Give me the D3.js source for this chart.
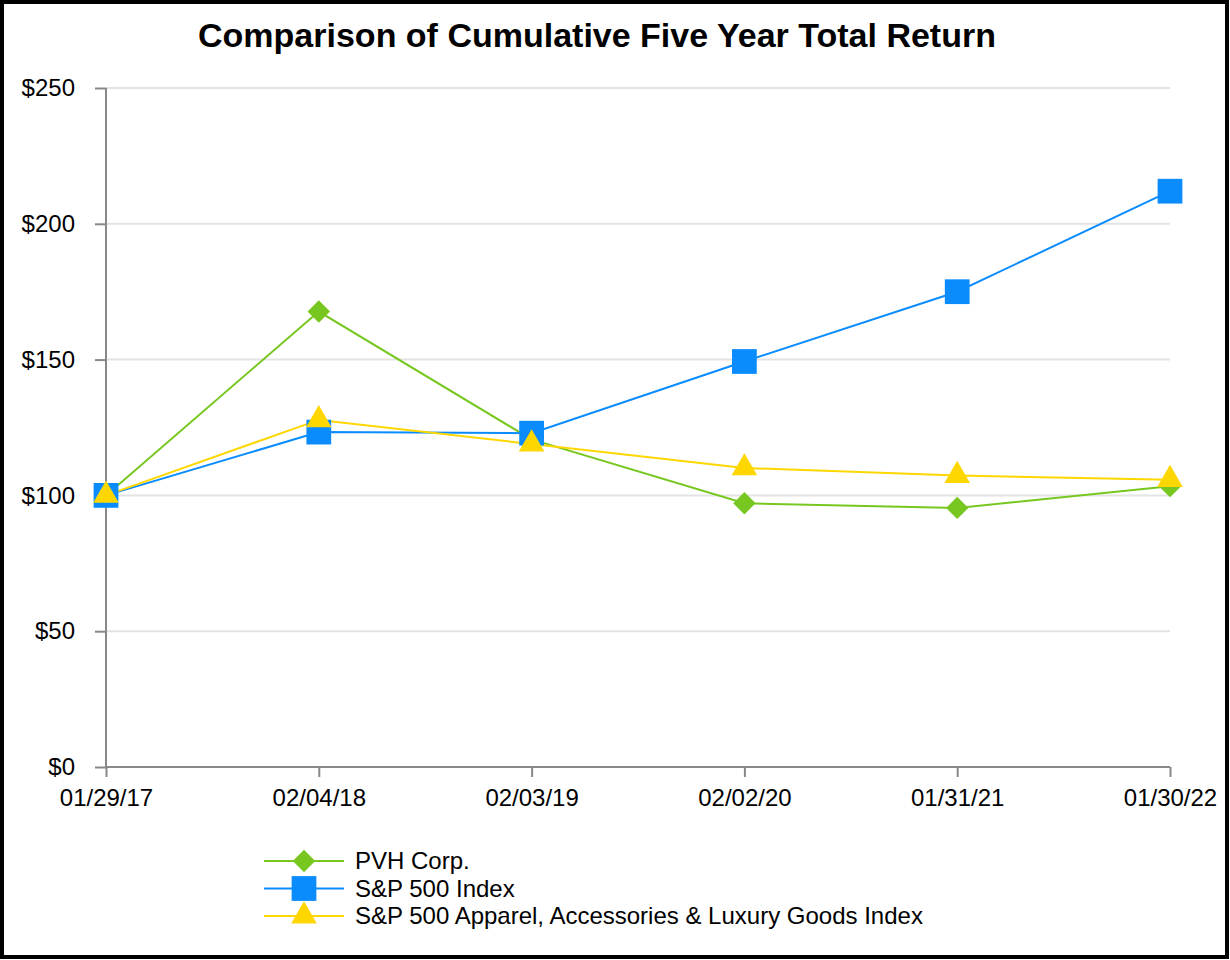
<!DOCTYPE html>
<meta charset="utf-8">
<style>
  body{ margin:0; }
  *{ font-family: Arial, "Liberation Sans", Helvetica, sans-serif; }
  .title{ font-size:34px; font-weight:bold; }
  .tick text{ font-size:24px; fill:#000; }
  .legend text{ font-size:24px; }
</style>
<body>
<div id="container"></div>
<script src="https://d3js.org/d3.v7.min.js"></script>
<script>

var dates = ['01/29/17','02/04/18','02/03/19','02/02/20','01/31/21','01/30/22'];
var pvh = [100, 167.7, 120.6, 97.1, 95.4, 103.4];
var sp500 = [100, 123.3, 122.9, 149.3, 175.0, 212.0];
var apparel = [100, 127.8, 118.9, 110.1, 107.3, 105.8];
var yTicks = [0, 50, 100, 150, 200, 250];

var series = [
  {name:'PVH Corp.', values:pvh, color:'#77c720', symbol:d3.symbolDiamond2, size:320},
  {name:'S&P 500 Index', values:sp500, color:'#0a8cff', symbol:d3.symbolSquare2, size:780},
  {name:'S&P 500 Apparel, Accessories & Luxury Goods Index', values:apparel, color:'#ffd700', symbol:d3.symbolTriangle2, size:470}
];

var W = 1230, H = 960;
var svg = d3.select('#container').append('svg').attr('width', W).attr('height', H);

svg.append('rect').attr('x',2).attr('y',2).attr('width',W-5).attr('height',H-5)
  .attr('fill','#fff').attr('stroke','#000').attr('stroke-width',4);

svg.append('text').attr('class','title').attr('x',597).attr('y',47)
  .attr('text-anchor','middle').text('Comparison of Cumulative Five Year Total Return');

var x = d3.scalePoint().domain(dates).range([106, 1170]);
var y = d3.scaleLinear().domain([0, 250]).range([767, 88]);

// grid
svg.append('g').selectAll('line').data(yTicks.slice(1)).join('line')
  .attr('x1', 106).attr('x2', 1170)
  .attr('y1', d => y(d)).attr('y2', d => y(d))
  .attr('stroke', '#e3e3e3').attr('stroke-width', 2);

var yAxis = svg.append('g').attr('transform','translate(106,0)')
  .call(d3.axisLeft(y).tickValues(yTicks).tickSize(11).tickPadding(20).tickFormat(d => '$' + d));
var xAxis = svg.append('g').attr('transform','translate(0,767)')
  .call(d3.axisBottom(x).tickSize(10).tickPadding(12));
[yAxis, xAxis].forEach(function(a){
  a.selectAll('.domain, .tick line').attr('stroke','#888').attr('stroke-width',2);
  a.select('.domain').attr('d', a === yAxis ? 'M0,767V88' : 'M106,0H1170');
});

var line = d3.line().x((d,i) => x(dates[i])).y(d => y(d));

series.forEach(function(s){
  svg.append('path').datum(s.values).attr('d', line)
    .attr('fill','none').attr('stroke', s.color).attr('stroke-width', 2);
});
series.forEach(function(s){
  var sym = d3.symbol().type(s.symbol).size(s.size);
  svg.append('g').selectAll('path').data(s.values).join('path')
    .attr('transform', (d,i) => 'translate(' + x(dates[i]) + ',' + y(d) + ')')
    .attr('d', sym).attr('fill', s.color);
});

// legend
var legend = svg.append('g').attr('class','legend');
series.forEach(function(s, i){
  var ly = 861 + i * 27.5;
  legend.append('line').attr('x1',264).attr('x2',344).attr('y1',ly).attr('y2',ly)
    .attr('stroke', s.color).attr('stroke-width', 2);
  legend.append('path').attr('transform','translate(304,' + ly + ')')
    .attr('d', d3.symbol().type(s.symbol).size(s.size)).attr('fill', s.color);
  legend.append('text').attr('x',355).attr('y',ly).attr('dy','0.35em').text(s.name);
});

</script>
</body>
